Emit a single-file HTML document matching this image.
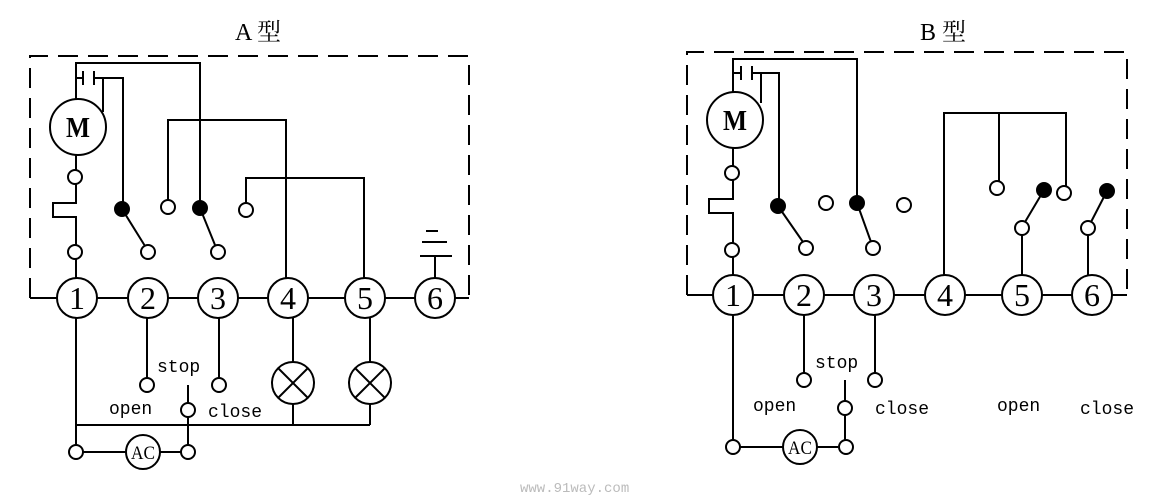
<!DOCTYPE html>
<html><head><meta charset="utf-8"><style>
html,body{margin:0;padding:0;background:#fff;width:1176px;height:500px;overflow:hidden}
svg{display:block}
text{font-family:"Liberation Mono",monospace;fill:#000}
text.sf{font-family:"Liberation Serif",serif}
text.ss{font-family:"Liberation Sans",sans-serif}
text.cj{font-family:"Liberation Serif","Noto Serif CJK SC",serif}
</style></head><body>
<svg width="1176" height="500" viewBox="0 0 1176 500" xmlns="http://www.w3.org/2000/svg">
<g stroke="#000" stroke-width="2" fill="none">
<path d="M30,298 V56 H469 V298" stroke-dasharray="20,10"/>
<line x1="30" y1="298" x2="469" y2="298"/>
<path d="M76,99 V63 H200 V202"/>
<path d="M76,78 H83 M83,71 V85 M94,71 V85 M94,78 H123 V202"/>
<path d="M103,78 V112"/>
<path d="M122,209 L145,246 M200,208 L215,245"/>
<path d="M168,200 V120 H286 V278"/>
<path d="M246,203 V178 H364 V278"/>
<path d="M76,155 V170 M76,184 V203 H53 V217 H76 V245 M76,259 V278"/>
<path d="M435,278 V256 M420,256 H452 M422,242 H447 M426,231 H438"/>
<path d="M76,318 V445 M76,425 H370"/>
<path d="M147,318 V378 M219,318 V378"/>
<path d="M293,318 V362 M293,404 V425 M370,318 V362 M370,404 V425"/>
<path d="M188,385 V403 M188,417 V445"/>
<path d="M83,452 H126 M160,452 H181"/>
<path d="M687,295 V52 H1127 V295" stroke-dasharray="20,10"/>
<line x1="687" y1="295" x2="1127" y2="295"/>
<path d="M733,92 V59 H857 V196"/>
<path d="M733,73 H741 M741,66 V80 M752,66 V80 M752,73 H779 V199"/>
<path d="M761,73 V103"/>
<path d="M778,206 L803,242 M857,203 L871,242"/>
<path d="M733,148 V166 M733,180 V199 H709 V213 H733 V243 M733,257 V275"/>
<path d="M944,275 V113 H1066 V186 M999,113 V181"/>
<path d="M1044,190 L1025,222 M1022,235 V275"/>
<path d="M1107,191 L1091,222 M1088,235 V275"/>
<path d="M733,315 V440 M804,315 V373 M875,315 V373"/>
<path d="M845,380 V401 M845,415 V440"/>
<path d="M740,447 H783 M817,447 H838"/>
</g>
<g stroke="#000" stroke-width="2" fill="#fff">
<circle cx="78" cy="127" r="28"/>
<circle cx="75" cy="177" r="7"/><circle cx="75" cy="252" r="7"/>
<circle cx="148" cy="252" r="7"/><circle cx="218" cy="252" r="7"/>
<circle cx="168" cy="207" r="7"/><circle cx="246" cy="210" r="7"/>
<circle cx="122" cy="209" r="7" fill="#000"/><circle cx="200" cy="208" r="7" fill="#000"/>
<circle cx="77" cy="298" r="20"/><circle cx="148" cy="298" r="20"/><circle cx="218" cy="298" r="20"/>
<circle cx="288" cy="298" r="20"/><circle cx="365" cy="298" r="20"/><circle cx="435" cy="298" r="20"/>
<circle cx="147" cy="385" r="7"/><circle cx="219" cy="385" r="7"/>
<circle cx="188" cy="410" r="7"/><circle cx="188" cy="452" r="7"/><circle cx="76" cy="452" r="7"/>
<circle cx="143" cy="452" r="17"/>
<circle cx="293" cy="383" r="21"/><circle cx="370" cy="383" r="21"/>
<circle cx="735" cy="120" r="28"/>
<circle cx="732" cy="173" r="7"/><circle cx="732" cy="250" r="7"/>
<circle cx="806" cy="248" r="7"/><circle cx="873" cy="248" r="7"/>
<circle cx="826" cy="203" r="7"/><circle cx="904" cy="205" r="7"/>
<circle cx="778" cy="206" r="7" fill="#000"/><circle cx="857" cy="203" r="7" fill="#000"/>
<circle cx="997" cy="188" r="7"/><circle cx="1064" cy="193" r="7"/>
<circle cx="1044" cy="190" r="7" fill="#000"/><circle cx="1107" cy="191" r="7" fill="#000"/>
<circle cx="1022" cy="228" r="7"/><circle cx="1088" cy="228" r="7"/>
<circle cx="733" cy="295" r="20"/><circle cx="804" cy="295" r="20"/><circle cx="874" cy="295" r="20"/>
<circle cx="945" cy="295" r="20"/><circle cx="1022" cy="295" r="20"/><circle cx="1092" cy="295" r="20"/>
<circle cx="804" cy="380" r="7"/><circle cx="875" cy="380" r="7"/>
<circle cx="845" cy="408" r="7"/><circle cx="846" cy="447" r="7"/><circle cx="733" cy="447" r="7"/>
<circle cx="800" cy="447" r="17"/>
</g>
<g stroke="#000" stroke-width="2">
<path d="M278,368 L308,398 M308,368 L278,398 M355,368 L385,398 M385,368 L355,398"/>
</g>
<g text-anchor="middle">
<text class="sf" x="78" y="137" font-size="28" font-weight="bold" textLength="24" lengthAdjust="spacingAndGlyphs">M</text>
<text class="sf" x="735" y="130" font-size="28" font-weight="bold" textLength="24" lengthAdjust="spacingAndGlyphs">M</text>
<g font-size="32">
<text class="sf" x="77" y="309">1</text><text class="sf" x="148" y="309">2</text><text class="sf" x="218" y="309">3</text>
<text class="sf" x="288" y="309">4</text><text class="sf" x="365" y="309">5</text><text class="sf" x="435" y="309">6</text>
<text class="sf" x="733" y="306">1</text><text class="sf" x="804" y="306">2</text><text class="sf" x="874" y="306">3</text>
<text class="sf" x="945" y="306">4</text><text class="sf" x="1022" y="306">5</text><text class="sf" x="1092" y="306">6</text>
</g>
<text class="sf" x="143" y="459" font-size="19" textLength="24" lengthAdjust="spacingAndGlyphs">AC</text>
<text class="sf" x="800" y="454" font-size="19" textLength="24" lengthAdjust="spacingAndGlyphs">AC</text>
</g>
<g font-size="18">
<text x="157" y="372">stop</text>
<text x="109" y="414">open</text>
<text x="208" y="417">close</text>
<text x="815" y="368">stop</text>
<text x="753" y="411">open</text>
<text x="875" y="414">close</text>
<text x="997" y="411">open</text>
<text x="1080" y="414">close</text>
</g>
<text class="cj" x="235" y="40" font-size="24">A 型</text>
<text class="cj" x="920" y="40" font-size="24">B 型</text>
<text x="520" y="492" font-size="14" style="fill:#bbb">www.91way.com</text>
</svg>
</body></html>
